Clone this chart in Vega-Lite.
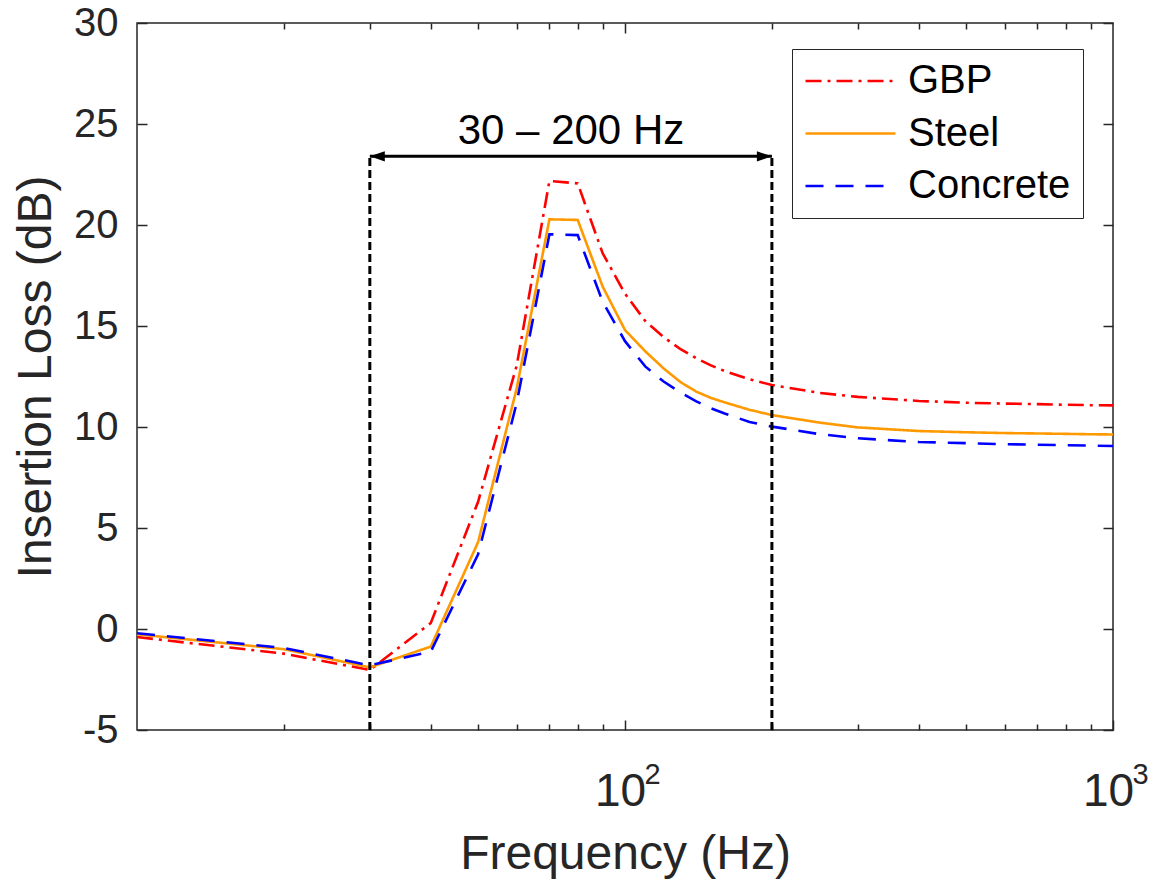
{
  "$schema": "https://vega.github.io/schema/vega-lite/v6.json",
  "width": 976,
  "height": 707,
  "autosize": "none",
  "padding": {"left": 137, "top": 23, "right": 38, "bottom": 149},
  "background": "white",
  "config": {
    "font": "Liberation Sans",
    "view": {"stroke": "#262626", "strokeWidth": 1.5},
    "axis": {
      "grid": false,
      "domain": false,
      "tickColor": "#262626",
      "tickWidth": 1.5,
      "labelColor": "#262626",
      "labelFont": "Liberation Sans",
      "labelFontSize": 40,
      "titleFont": "Liberation Sans",
      "titleFontSize": 48,
      "titleFontWeight": "normal",
      "titleColor": "#262626",
      "labelFlush": false,
      "labelOverlap": false
    }
  },
  "resolve": {"axis": {"x": "independent", "y": "independent"}},
  "layer": [
    {
      "data": {
        "values": [
          {"f": 10, "m": "GBP", "v": -0.4}, {"f": 20, "m": "GBP", "v": -1.22}, {"f": 30, "m": "GBP", "v": -2.03}, {"f": 40, "m": "GBP", "v": 0.3},
          {"f": 50, "m": "GBP", "v": 6.3}, {"f": 60, "m": "GBP", "v": 13.05}, {"f": 70, "m": "GBP", "v": 22.18}, {"f": 80, "m": "GBP", "v": 22.06},
          {"f": 90, "m": "GBP", "v": 18.6}, {"f": 100, "m": "GBP", "v": 16.6}, {"f": 110, "m": "GBP", "v": 15.25}, {"f": 120, "m": "GBP", "v": 14.45},
          {"f": 130, "m": "GBP", "v": 13.85}, {"f": 140, "m": "GBP", "v": 13.4}, {"f": 150, "m": "GBP", "v": 13.05}, {"f": 160, "m": "GBP", "v": 12.77},
          {"f": 180, "m": "GBP", "v": 12.36}, {"f": 200, "m": "GBP", "v": 12.08}, {"f": 250, "m": "GBP", "v": 11.69}, {"f": 300, "m": "GBP", "v": 11.49},
          {"f": 400, "m": "GBP", "v": 11.29}, {"f": 500, "m": "GBP", "v": 11.2}, {"f": 600, "m": "GBP", "v": 11.16}, {"f": 700, "m": "GBP", "v": 11.13},
          {"f": 800, "m": "GBP", "v": 11.1}, {"f": 900, "m": "GBP", "v": 11.08}, {"f": 1000, "m": "GBP", "v": 11.07},
          {"f": 10, "m": "Steel", "v": -0.26}, {"f": 20, "m": "Steel", "v": -1.0}, {"f": 30, "m": "Steel", "v": -1.9}, {"f": 40, "m": "Steel", "v": -0.87},
          {"f": 50, "m": "Steel", "v": 4.3}, {"f": 60, "m": "Steel", "v": 11.92}, {"f": 70, "m": "Steel", "v": 20.28}, {"f": 80, "m": "Steel", "v": 20.25},
          {"f": 90, "m": "Steel", "v": 16.95}, {"f": 100, "m": "Steel", "v": 14.8}, {"f": 110, "m": "Steel", "v": 13.75}, {"f": 120, "m": "Steel", "v": 12.9},
          {"f": 130, "m": "Steel", "v": 12.22}, {"f": 140, "m": "Steel", "v": 11.75}, {"f": 150, "m": "Steel", "v": 11.44}, {"f": 160, "m": "Steel", "v": 11.22},
          {"f": 180, "m": "Steel", "v": 10.85}, {"f": 200, "m": "Steel", "v": 10.59}, {"f": 250, "m": "Steel", "v": 10.22}, {"f": 300, "m": "Steel", "v": 9.98},
          {"f": 400, "m": "Steel", "v": 9.8}, {"f": 500, "m": "Steel", "v": 9.74}, {"f": 600, "m": "Steel", "v": 9.7}, {"f": 700, "m": "Steel", "v": 9.68},
          {"f": 800, "m": "Steel", "v": 9.66}, {"f": 900, "m": "Steel", "v": 9.64}, {"f": 1000, "m": "Steel", "v": 9.63},
          {"f": 10, "m": "Concrete", "v": -0.21}, {"f": 20, "m": "Concrete", "v": -0.94}, {"f": 30, "m": "Concrete", "v": -1.8}, {"f": 40, "m": "Concrete", "v": -1.12},
          {"f": 50, "m": "Concrete", "v": 3.7}, {"f": 60, "m": "Concrete", "v": 11.2}, {"f": 70, "m": "Concrete", "v": 19.54}, {"f": 80, "m": "Concrete", "v": 19.5},
          {"f": 90, "m": "Concrete", "v": 16.2}, {"f": 100, "m": "Concrete", "v": 14.25}, {"f": 110, "m": "Concrete", "v": 13.0}, {"f": 120, "m": "Concrete", "v": 12.25},
          {"f": 130, "m": "Concrete", "v": 11.7}, {"f": 140, "m": "Concrete", "v": 11.27}, {"f": 150, "m": "Concrete", "v": 10.93}, {"f": 160, "m": "Concrete", "v": 10.67},
          {"f": 180, "m": "Concrete", "v": 10.25}, {"f": 200, "m": "Concrete", "v": 10.02}, {"f": 250, "m": "Concrete", "v": 9.65}, {"f": 300, "m": "Concrete", "v": 9.44},
          {"f": 400, "m": "Concrete", "v": 9.26}, {"f": 500, "m": "Concrete", "v": 9.2}, {"f": 600, "m": "Concrete", "v": 9.15}, {"f": 700, "m": "Concrete", "v": 9.12},
          {"f": 800, "m": "Concrete", "v": 9.1}, {"f": 900, "m": "Concrete", "v": 9.08}, {"f": 1000, "m": "Concrete", "v": 9.06}
        ]
      },
      "mark": {"type": "line", "strokeWidth": 2.6},
      "encoding": {
        "x": {
          "field": "f", "type": "quantitative",
          "scale": {"type": "log", "domain": [10, 1000], "nice": false},
          "axis": {
            "orient": "bottom", "values": [100, 1000],
            "labelExpr": "'10'",
            "labelFontSize": 46, "labelOffset": -5,
            "tickSize": -10, "labelPadding": 49,
            "title": "Frequency (Hz)", "titleX": 488, "titleY": 138, "titleBaseline": "alphabetic"
          }
        },
        "y": {
          "field": "v", "type": "quantitative",
          "scale": {"domain": [-5, 30], "nice": false, "zero": false},
          "axis": {
            "orient": "left", "values": [-5, 0, 5, 10, 15, 20, 25, 30],
            "labelExpr": "datum.value < 0 ? '-' + abs(datum.value) : datum.label",
            "tickSize": -10, "labelPadding": 29,
            "title": "Insertion Loss (dB)", "titleX": -87, "titleY": 353.5, "titleBaseline": "alphabetic"
          }
        },
        "color": {
          "field": "m", "type": "nominal",
          "scale": {"domain": ["GBP", "Steel", "Concrete"], "range": ["#ff0000", "#ff9900", "#0000ff"]},
          "legend": {
            "title": null, "orient": "none", "legendX": 655, "legendY": 26, "direction": "vertical",
            "symbolType": "stroke", "symbolSize": 8100, "symbolStrokeWidth": 2.5, "clipHeight": 40,
            "rowPadding": 12.5, "labelFontSize": 40, "labelFont": "Liberation Sans", "labelColor": "black",
            "labelOffset": 11, "padding": 12, "strokeColor": "#262626", "fillColor": "white", "labelLimit": 400
          }
        },
        "strokeDash": {
          "field": "m", "type": "nominal",
          "scale": {"domain": ["GBP", "Steel", "Concrete"], "range": [[16, 6, 3, 6], [1, 0], [18, 12]]},
          "legend": {
            "title": null, "orient": "none", "legendX": 655, "legendY": 26, "direction": "vertical",
            "symbolType": "stroke", "symbolSize": 8100, "symbolStrokeWidth": 2.5, "clipHeight": 40,
            "rowPadding": 12.5, "labelFontSize": 40, "labelFont": "Liberation Sans", "labelColor": "black",
            "labelOffset": 11, "padding": 12, "strokeColor": "#262626", "fillColor": "white", "labelLimit": 400
          }
        }
      }
    },
    {
      "data": {"values": [{"f": 30, "y0": -5, "y1": 23.4}, {"f": 200, "y0": -5, "y1": 23.4}]},
      "mark": {"type": "rule", "strokeDash": [8, 4], "strokeWidth": 3, "color": "black"},
      "encoding": {
        "x": {
          "field": "f", "type": "quantitative",
          "scale": {"type": "log", "domain": [10, 1000], "nice": false},
          "axis": {"orient": "bottom", "values": [20, 30, 40, 50, 60, 70, 80, 90, 200, 300, 400, 500, 600, 700, 800, 900], "labels": false, "tickSize": -6, "title": null}
        },
        "y": {
          "field": "y0", "type": "quantitative",
          "scale": {"domain": [-5, 30], "nice": false, "zero": false},
          "axis": {"orient": "right", "values": [-5, 0, 5, 10, 15, 20, 25, 30], "labels": false, "tickSize": -10, "title": null}
        },
        "y2": {"field": "y1"}
      }
    },
    {
      "data": {"values": [{"f0": 30, "f1": 200, "y": 23.4}]},
      "mark": {"type": "rule", "strokeWidth": 3, "color": "black"},
      "encoding": {
        "x": {
          "field": "f0", "type": "quantitative",
          "scale": {"type": "log", "domain": [10, 1000], "nice": false},
          "axis": {"orient": "top", "values": [100], "labels": false, "tickSize": -10, "title": null}
        },
        "x2": {"field": "f1"},
        "y": {"field": "y", "type": "quantitative", "scale": {"domain": [-5, 30], "nice": false, "zero": false}, "axis": null}
      }
    },
    {
      "data": {"values": [{"f": 30, "y": 23.4, "d": "left"}, {"f": 200, "y": 23.4, "d": "right"}]},
      "mark": {"type": "point", "filled": true, "color": "black", "opacity": 1, "size": 900, "strokeWidth": 0},
      "encoding": {
        "x": {
          "field": "f", "type": "quantitative",
          "scale": {"type": "log", "domain": [10, 1000], "nice": false},
          "axis": {"orient": "top", "values": [20, 30, 40, 50, 60, 70, 80, 90, 200, 300, 400, 500, 600, 700, 800, 900], "labels": false, "tickSize": -6, "title": null}
        },
        "y": {"field": "y", "type": "quantitative", "scale": {"domain": [-5, 30], "nice": false, "zero": false}, "axis": null},
        "shape": {
          "field": "d", "type": "nominal",
          "scale": {"domain": ["left", "right"], "range": ["M0,0L1,-0.34L1,0.34Z", "M0,0L-1,-0.34L-1,0.34Z"]},
          "legend": null
        }
      }
    },
    {
      "data": {"values": [{"f": 77.5, "y": 24.0, "t": "30 – 200 Hz"}]},
      "mark": {"type": "text", "fontSize": 42, "font": "Liberation Sans", "align": "center", "baseline": "alphabetic", "color": "black"},
      "encoding": {
        "x": {
          "field": "f", "type": "quantitative",
          "scale": {"type": "log", "domain": [10, 1000], "nice": false},
          "axis": {
            "orient": "bottom", "values": [100, 1000],
            "labelExpr": "datum.value == 100 ? '2' : '3'",
            "labelFontSize": 29, "labelOffset": 27, "labelPadding": 30,
            "ticks": false, "tickSize": 0, "title": null
          }
        },
        "y": {"field": "y", "type": "quantitative", "scale": {"domain": [-5, 30], "nice": false, "zero": false}, "axis": null},
        "text": {"field": "t"}
      }
    }
  ]
}
